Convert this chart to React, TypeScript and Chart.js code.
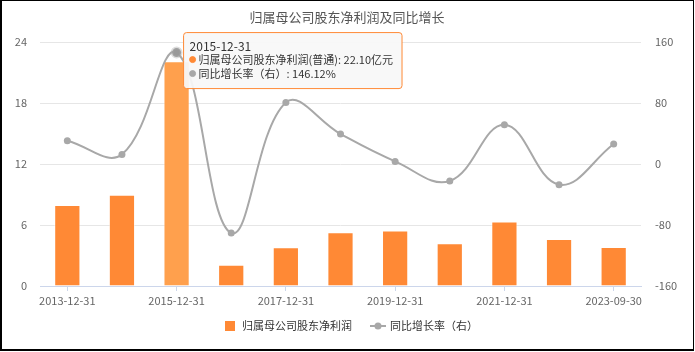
import React, { useEffect, useRef } from 'react';
import { Chart, registerables, Tooltip } from 'chart.js';

Chart.register(...registerables);

const TITLE = '归属母公司股东净利润及同比增长';
const categories = [
  '2013-12-31', '2014-12-31', '2015-12-31', '2016-12-31', '2017-12-31', '2018-12-31',
  '2019-12-31', '2020-12-31', '2021-12-31', '2022-12-31', '2023-09-30',
];
const netProfit = [7.97, 8.98, 22.1, 2.1, 3.8, 5.29, 5.46, 4.2, 6.35, 4.62, 3.84];
const yoyGrowth = [30.6, 12.6, 146.12, -90.5, 80.8, 39.3, 3.4, -22.3, 51.5, -27.1, 26.2];
const leftTicks = [0, 6, 12, 18, 24];
const rightTicks = [-160, -80, 0, 80, 160];
const barLabel = '归属母公司股东净利润';
const barTooltipLabel = '归属母公司股东净利润(普通)';
const lineLabel = '同比增长率（右）';
const highlightIndex = 2;

const FONT = '"Noto Sans CJK SC", "Noto Sans", sans-serif';
const ORANGE = '#ff8935';
const ORANGE_HOVER = '#ffa04d';
const GRAY = '#a8a8a8';

(Tooltip.positioners as any).besidePoint = function (items: any[]) {
  if (!items.length) return false;
  const it = items.find((i) => i.datasetIndex === 1) || items[0];
  return { x: it.element.x + 7, y: it.element.y + 8 };
};

const decor = {
  id: 'decor',
  afterDraw(chart: any) {
    const ctx = chart.ctx as CanvasRenderingContext2D;
    ctx.save();
    ctx.font = `13px ${FONT}`;
    ctx.fillStyle = '#555';
    ctx.textAlign = 'center';
    ctx.textBaseline = 'middle';
    ctx.fillText(TITLE, 347, 17);

    // legend
    const ly = 326;
    ctx.font = `11px ${FONT}`;
    ctx.textAlign = 'left';
    ctx.fillStyle = ORANGE;
    ctx.fillRect(225, ly - 5, 10, 10);
    ctx.fillStyle = '#333';
    ctx.fillText(barLabel, 242, ly);
    const x2 = 242 + ctx.measureText(barLabel).width + 18;
    ctx.strokeStyle = GRAY;
    ctx.lineWidth = 2;
    ctx.beginPath();
    ctx.moveTo(x2, ly);
    ctx.lineTo(x2 + 16, ly);
    ctx.stroke();
    ctx.fillStyle = GRAY;
    ctx.beginPath();
    ctx.arc(x2 + 8, ly, 3.5, 0, Math.PI * 2);
    ctx.fill();
    ctx.fillStyle = '#333';
    ctx.fillText(lineLabel, x2 + 20, ly);
    ctx.restore();
  },
};

export default function App() {
  const ref = useRef<HTMLCanvasElement | null>(null);

  useEffect(() => {
    if (!ref.current) return;
    Chart.defaults.font.family = FONT;
    const chart = new Chart(ref.current, {
      type: 'bar',
      data: {
        labels: categories,
        datasets: [
          {
            type: 'bar',
            label: barLabel,
            data: netProfit,
            yAxisID: 'y',
            backgroundColor: ORANGE,
            hoverBackgroundColor: ORANGE_HOVER,
            borderColor: 'rgba(255,255,255,0.5)',
            hoverBorderColor: 'rgba(255,255,255,0.5)',
            borderWidth: 1,
            barPercentage: 0.48,
            categoryPercentage: 1,
            order: 2,
          } as any,
          {
            type: 'line',
            label: lineLabel,
            data: yoyGrowth,
            yAxisID: 'y1',
            borderColor: GRAY,
            backgroundColor: GRAY,
            borderWidth: 2,
            tension: 0.4,
            pointRadius: 3.5,
            pointBorderWidth: 0,
            pointBackgroundColor: GRAY,
            pointHoverRadius: 4.5,
            pointHoverBorderWidth: 3,
            pointHoverBackgroundColor: '#999',
            pointHoverBorderColor: 'rgba(170,170,170,0.4)',
            order: 1,
          } as any,
        ],
      },
      options: {
        responsive: false,
        animation: false,
        devicePixelRatio: 1,
        events: [],
        layout: { padding: { top: 42, bottom: 0, left: 0, right: 0 } },
        plugins: {
          legend: { display: false },
          title: { display: false },
          tooltip: {
            enabled: true,
            position: 'besidePoint' as any,
            xAlign: 'left',
            yAlign: 'center',
            caretSize: 0,
            caretPadding: 0,
            backgroundColor: 'rgba(248,248,248,0.93)',
            borderColor: ORANGE,
            borderWidth: 1,
            cornerRadius: 3,
            padding: { top: 7, bottom: 8, left: 6, right: 9 },
            titleColor: '#333',
            bodyColor: '#333',
            titleFont: { size: 12, weight: 'normal', lineHeight: '13px' as any },
            bodyFont: { size: 11, lineHeight: '14px' as any },
            titleMarginBottom: 0,
            bodySpacing: 0,
            displayColors: true,
            usePointStyle: true,
            boxWidth: 6,
            boxHeight: 6,
            boxPadding: 1,
            callbacks: {
              title: (items: any[]) => categories[items[0].dataIndex],
              label: (item: any) =>
                item.datasetIndex === 0
                  ? `${barTooltipLabel}: ${Number(item.raw).toFixed(2)}亿元`
                  : `${lineLabel}: ${Number(item.raw).toFixed(2)}%`,
              labelColor: (item: any) => {
                const c = item.datasetIndex === 0 ? ORANGE : GRAY;
                return { borderColor: c, backgroundColor: c, borderWidth: 0 } as any;
              },
              labelPointStyle: () => ({ pointStyle: 'circle', rotation: 0 }),
            },
          },
        },
        scales: {
          x: {
            offset: true,
            grid: {
              display: true,
              offset: false,
              drawOnChartArea: false,
              drawTicks: true,
              tickLength: 5,
              tickColor: (c: any) => (c.index % 2 === 0 ? '#ccd6eb' : 'rgba(0,0,0,0)'),
            },
            border: { display: true, color: '#ccd6eb', width: 1 },
            ticks: {
              autoSkip: false,
              maxRotation: 0,
              padding: 3,
              color: '#666',
              font: { size: 11 },
              callback: (_v: any, i: number) => (i % 2 === 0 ? categories[i] : ''),
            },
            afterFit: (s: any) => {
              s.height = 66;
            },
          },
          y: {
            position: 'left',
            min: leftTicks[0],
            max: leftTicks[leftTicks.length - 1],
            ticks: {
              stepSize: leftTicks[1] - leftTicks[0],
              padding: 13,
              color: '#666',
              font: { size: 11 },
            },
            grid: { color: '#e6e6e6', drawTicks: false, lineWidth: 1 },
            border: { display: false },
            afterFit: (s: any) => {
              s.width = 40;
            },
          },
          y1: {
            position: 'right',
            min: rightTicks[0],
            max: rightTicks[rightTicks.length - 1],
            ticks: {
              stepSize: rightTicks[1] - rightTicks[0],
              padding: 14,
              color: '#666',
              font: { size: 11 },
            },
            grid: { drawOnChartArea: false, drawTicks: false },
            border: { display: false },
            afterFit: (s: any) => {
              s.width = 54;
            },
          },
        },
      },
      plugins: [decor],
    });

    const active = [
      { datasetIndex: 0, index: highlightIndex },
      { datasetIndex: 1, index: highlightIndex },
    ];
    chart.setActiveElements(active);
    const el = chart.getDatasetMeta(1).data[highlightIndex] as any;
    chart.tooltip?.setActiveElements(active, { x: el.x, y: el.y });
    chart.update();

    return () => chart.destroy();
  }, []);

  return (
    <div style={{ position: 'fixed', left: 0, top: 0, width: 695, height: 352, background: '#fff' }}>
      <canvas ref={ref} width={695} height={352} style={{ display: 'block', width: 695, height: 352 }} />
      <div
        style={{
          position: 'absolute',
          left: 0,
          top: 0,
          width: 694,
          height: 351,
          boxSizing: 'border-box',
          borderStyle: 'solid',
          borderColor: '#000',
          borderWidth: '1px 1px 2px 2px',
          pointerEvents: 'none',
        }}
      />
    </div>
  );
}
